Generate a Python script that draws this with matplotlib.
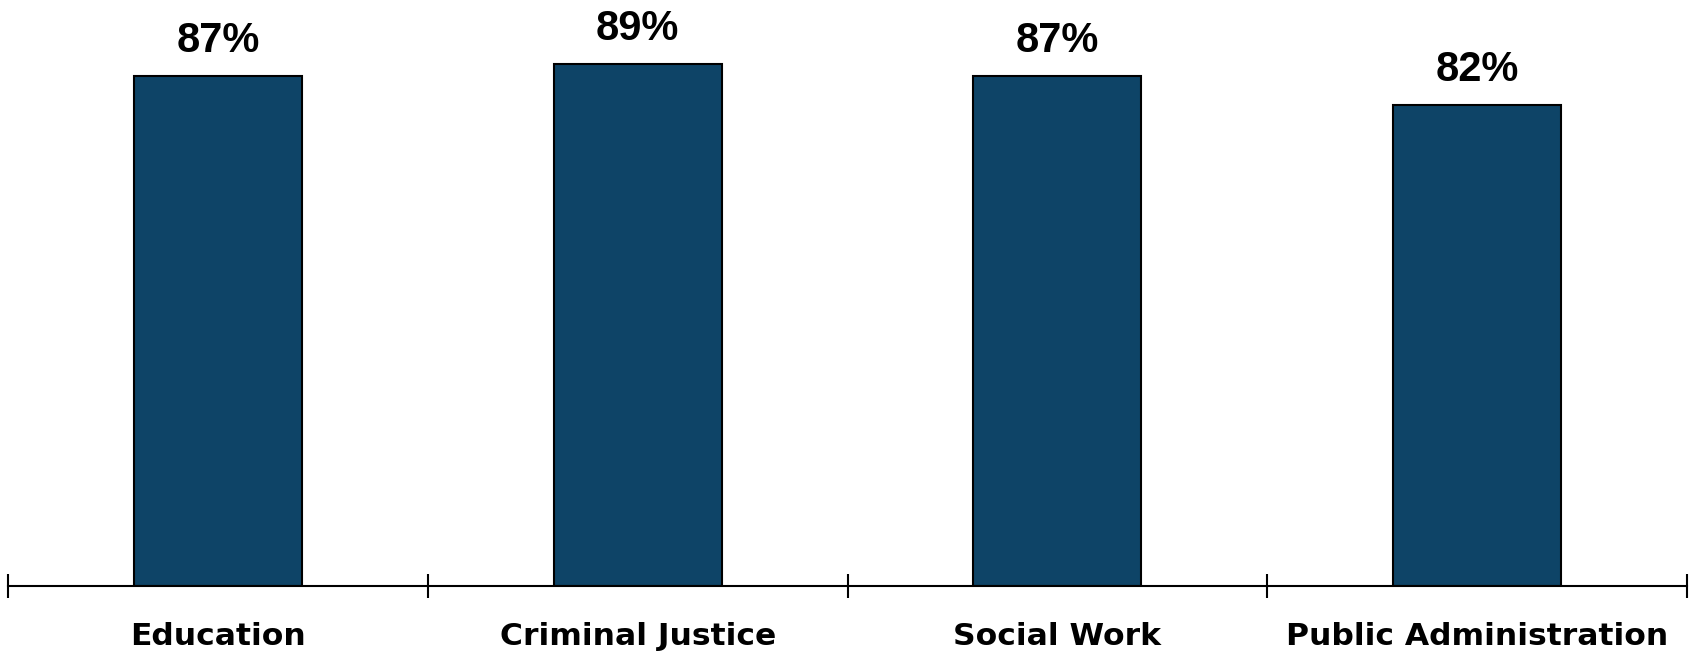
import numpy as np
import matplotlib.pyplot as plt

categories = ["Education", "Criminal Justice", "Social Work", "Public Administration"]
values = [87, 89, 87, 82]
value_labels = ["87%", "89%", "87%", "82%"]

BAR_COLOR = "#0e4467"

fig = plt.figure(figsize=(16.96, 6.52), dpi=100)
ax = fig.add_axes([8 / 1696, 66 / 652, 1679 / 1696, 586 / 652])

x = np.arange(len(categories))
ax.bar(x, values, width=0.4, color=BAR_COLOR, edgecolor="black", linewidth=1.5, zorder=2)

for xi, v, lab in zip(x, values, value_labels):
    ax.annotate(lab, (xi, v), xytext=(0, 11), textcoords="offset points",
                ha="center", va="bottom", fontsize=30, fontweight="bold",
                family="Liberation Sans", annotation_clip=False)

ax.set_xlim(-0.5, len(categories) - 0.5)
ax.set_ylim(0, 100)

# boundary ticks (major), labels on minor ticks at the centres
ax.set_xticks(np.arange(len(categories) + 1) - 0.5)
ax.set_xticklabels([])
ax.tick_params(axis="x", which="major", direction="inout", length=17, width=1.5, color="black")
ax.set_xticks(x, minor=True)
ax.set_xticklabels(categories, minor=True, fontsize=22.6, fontweight="bold", family="DejaVu Sans")
ax.tick_params(axis="x", which="minor", length=0, pad=26)

ax.set_yticks([])
for s in ["top", "left", "right"]:
    ax.spines[s].set_visible(False)
ax.spines["bottom"].set_linewidth(1.5)
ax.spines["bottom"].set_zorder(3)

fig.savefig("out.png", dpi=100)
